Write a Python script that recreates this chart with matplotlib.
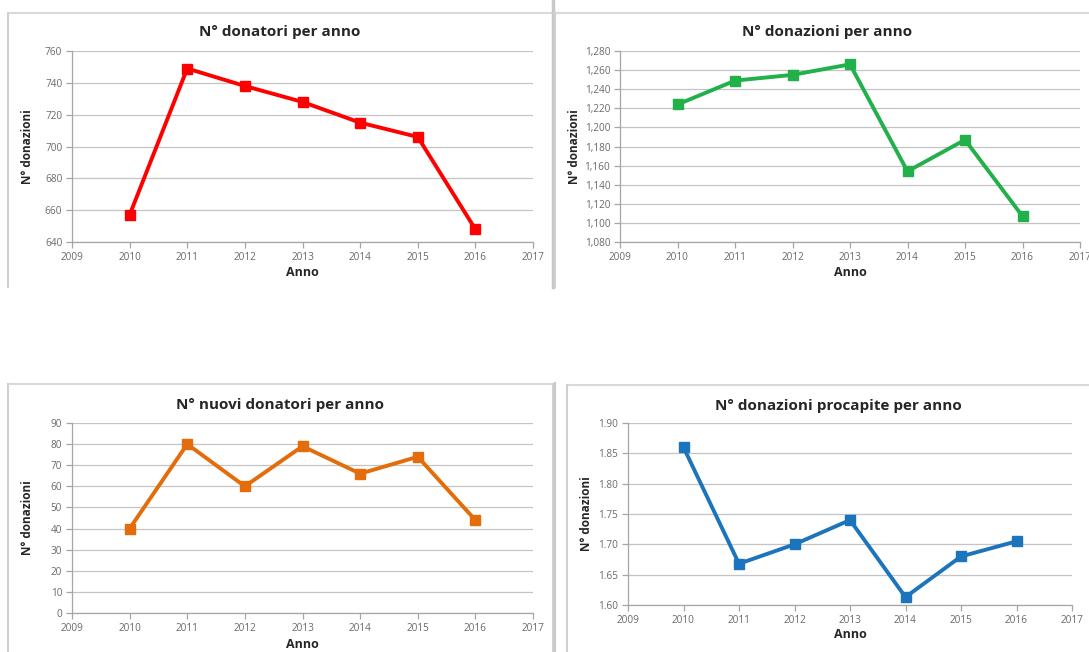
import matplotlib
matplotlib.use("Agg")
import matplotlib.pyplot as plt
from matplotlib.ticker import FuncFormatter, MultipleLocator
from matplotlib.lines import Line2D

plt.rcParams['font.family'] = ['Open Sans', 'DejaVu Sans']

years = [2010, 2011, 2012, 2013, 2014, 2015, 2016]
donatori = [657, 749, 738, 728, 715, 706, 648]
donazioni = [1224, 1249, 1255, 1266, 1154, 1187, 1107]
nuovi = [40, 80, 60, 79, 66, 74, 44]
procapite = [1.86, 1.668, 1.70, 1.74, 1.613, 1.68, 1.705]

titles = ["N° donatori per anno", "N° donazioni per anno",
          "N° nuovi donatori per anno", "N° donazioni procapite per anno"]
ylabel = "N° donazioni"
xlabel = "Anno"
colors = ["#FF0000", "#22B04B", "#E46C0A", "#1C75BC"]

W, H = 1089, 652
fig = plt.figure(figsize=(W / 100, H / 100), dpi=100)
fig.patch.set_facecolor("white")


def rect(l, t, r, b):
    return [l / W, (H - b) / H, (r - l) / W, (b - t) / H]


def vline(x, y0, y1, color="#D0D0D0", lw=1.5):
    fig.add_artist(Line2D([x / W, x / W], [(H - y0) / H, (H - y1) / H],
                          color=color, lw=lw, transform=fig.transFigure))


def hline(y, x0, x1, color="#D9D9D9", lw=1.5):
    fig.add_artist(Line2D([x0 / W, x1 / W], [(H - y) / H, (H - y) / H],
                          color=color, lw=lw, transform=fig.transFigure))


# frames
hline(13, 8, 552); vline(8, 13, 287)
vline(553, 0, 287, color="#C8C8C8", lw=2.5)
hline(13, 554, 1089); vline(555, 13, 287)
hline(384, 8, 552); vline(8, 384, 652); vline(553, 384, 652)
vline(555, 383, 652, color="#C8C8C8", lw=1.5)
hline(385, 567, 1089); vline(567, 385, 652)

specs = [
    (donatori, rect(72, 51, 533, 242), (640, 760), 20, lambda v, p: f"{v:.0f}", (280, 32), 28, 257, 272),
    (donazioni, rect(620, 51, 1080, 242), (1080, 1280), 20, lambda v, p: f"{v:,.0f}", (827, 32), 574, 257, 272),
    (nuovi, rect(72, 423, 533, 613), (0, 90), 10, lambda v, p: f"{v:.0f}", (280, 405), 28, 629, 644),
    (procapite, rect(628, 423, 1072, 605), (1.60, 1.90), 0.05, lambda v, p: f"{v:.2f}", (838, 406), 586, 621, 635),
]

for i, (vals, r, ylim, step, fmt, tpos, ylx, ticky, axy) in enumerate(specs):
    ax = fig.add_axes(r)
    ax.plot(years, vals, color=colors[i], lw=2.8, marker="s", ms=6.5,
            solid_joinstyle="miter", zorder=3)
    ax.set_xlim(2009, 2017)
    ax.set_ylim(*ylim)
    ax.xaxis.set_major_locator(MultipleLocator(1))
    ax.yaxis.set_major_locator(MultipleLocator(step))
    ax.yaxis.set_major_formatter(FuncFormatter(fmt))
    ax.grid(axis="y", color="#C4C4C4", lw=0.9)
    ax.set_axisbelow(True)
    for s in ["top", "right"]:
        ax.spines[s].set_visible(False)
    for s in ["left", "bottom"]:
        ax.spines[s].set_color("#A6A6A6")
        ax.spines[s].set_linewidth(0.9)
    ax.tick_params(axis="both", colors="#A6A6A6", labelcolor="#6A6A6A",
                   labelsize=7.2, length=4, width=0.9, pad=3)
    fig.text(tpos[0] / W, (H - tpos[1]) / H, titles[i], ha="center", va="center",
             fontsize=11, fontweight="bold", color="#262626")
    ymid = H - (r[1] + r[3] / 2) * H
    fig.text(ylx / W, (H - ymid) / H, ylabel, rotation=90, ha="center", va="center",
             fontsize=8.5, fontweight="bold", color="#262626")
    xmid = (r[0] + r[2] / 2) * W
    fig.text(xmid / W, (H - axy) / H, xlabel, ha="center", va="center",
             fontsize=9, fontweight="bold", color="#262626")

fig.savefig("out.png", dpi=100, facecolor="white")
